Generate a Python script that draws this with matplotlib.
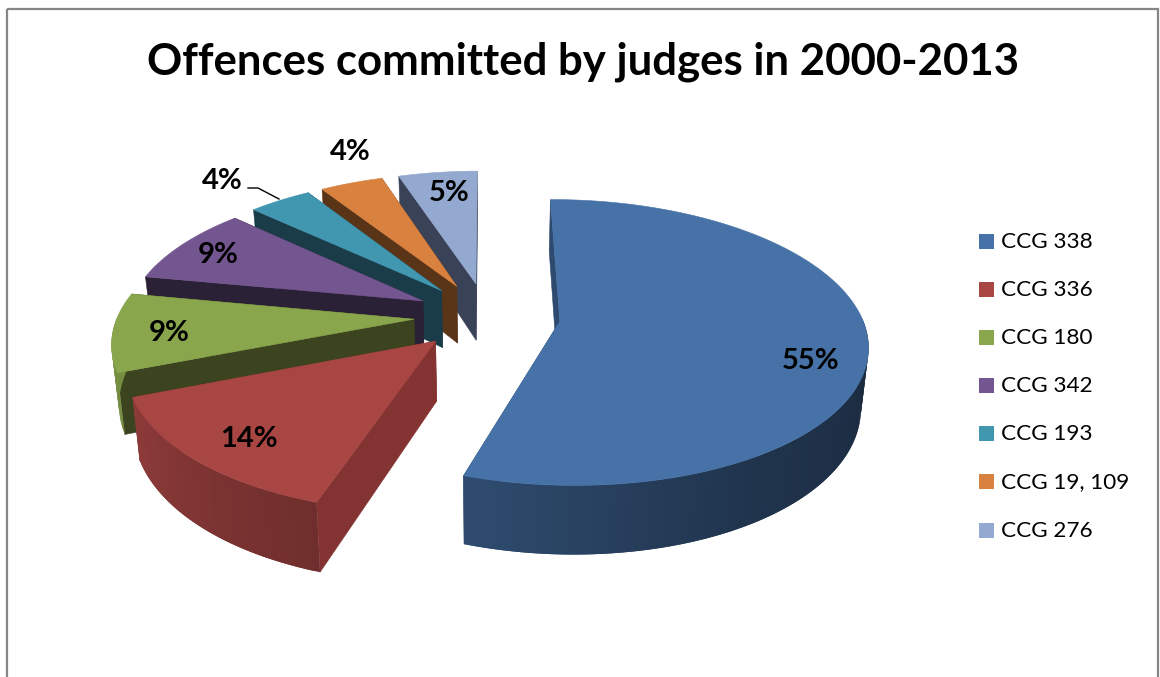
#!/usr/bin/env python3
"""Exploded pseudo-3D pie of offences committed by judges, with perspective."""

import numpy as np
import matplotlib
matplotlib.use('Agg')
import matplotlib.pyplot as plt
from matplotlib.patches import Polygon, Rectangle

plt.rcParams['font.family'] = ['Lato', 'DejaVu Sans']

TITLE = 'Offences committed by judges in 2000-2013'
categories = ['CCG 338', 'CCG 336', 'CCG 180', 'CCG 342', 'CCG 193', 'CCG 19, 109', 'CCG 276']
percent = [55, 14, 9, 9, 4, 4, 5]

top_colors = ['#4672a8', '#a84644', '#8aa64d', '#735590', '#4196b0', '#d98240', '#93a9cf']
cut_colors = ['#2e4a6e', '#833331', '#3b431f', '#2b2136', '#1a3b48', '#5a3417', '#3a4257']

# label anchor for each slice, in pixels
label_xy = [(811, 361), (249, 439), (169, 333), (218, 255), (222, 181), (350, 152), (449, 193)]

# projection of the pie plane onto the page
CX, CY = 487, 316
RX, RY = 299, 138
PERSP = 0.147
SKEW = 0.006
EXPLODE = 0.245
DEPTH = 58.5
BOTTOM_SHRINK = 0.98


def project(x, y, bottom=False):
    """Disc coordinates (y towards the viewer) to page pixels."""
    s = 1.0 / (1.0 - PERSP * y - SKEW * x)
    shrink = BOTTOM_SHRINK if bottom else 1.0
    px = CX + RX * x * s * shrink
    py = CY + RY * y * s + (DEPTH * s if bottom else 0)
    return px, py


def rim_shade(theta):
    """Brightness of the outer wall, by clockwise angle from the top."""
    return np.interp(theta, [90, 150, 198, 250, 360], [0.36, 0.46, 0.66, 0.85, 0.85])


def shaded(color, f):
    rgb = np.array(matplotlib.colors.to_rgb(color))
    return tuple(rgb * f)


def face(ax, pts, color, z, edge=True):
    ax.add_patch(Polygon(pts, closed=True, facecolor=color,
                         edgecolor=color if edge else 'none',
                         lw=0.4 if edge else 0, zorder=z))


def draw_slice(ax, t0, t1, top, cut, z):
    mid = np.radians((t0 + t1) / 2)
    ox, oy = EXPLODE * np.sin(mid), -EXPLODE * np.cos(mid)

    thetas = np.linspace(t0, t1, max(int(t1 - t0) + 2, 8))
    rad = np.radians(thetas)
    xs = ox + np.sin(rad)
    ys = oy - np.cos(rad)

    apex_top = project(ox, oy)
    apex_bot = project(ox, oy, bottom=True)

    # radial cut faces
    for i in (0, -1):
        face(ax, [apex_top, project(xs[i], ys[i]),
                  project(xs[i], ys[i], bottom=True), apex_bot], cut, z)

    # outer wall: only the arc facing the viewer. Each strip overlaps the
    # next one so no seams show between them.
    n = len(thetas)
    for i in range(n - 1):
        mid_t = (thetas[i] + thetas[i + 1]) / 2
        if np.cos(np.radians(mid_t)) > 0.02:
            continue
        j = min(i + 2, n - 1)
        col = shaded(top, rim_shade(mid_t))
        idx = range(i, j + 1)
        upper = [project(xs[k], ys[k]) for k in idx]
        lower = [project(xs[k], ys[k], bottom=True) for k in reversed(idx)]
        face(ax, upper + lower, col, z + 0.1 + 0.001 * i, edge=False)

    # top surface
    outline = [apex_top] + [project(a, b) for a, b in zip(xs, ys)]
    face(ax, outline, top, z + 0.5)


fig = plt.figure(figsize=(11.6, 6.77), dpi=100)
ax = fig.add_axes([0, 0, 1, 1])
ax.set_xlim(0, 1160)
ax.set_ylim(677, 0)
ax.axis('off')

# chart frame, runs off the bottom of the page
ax.add_patch(Rectangle((7, 9), 1151, 720, fill=False, edgecolor='#868686', lw=1.6, zorder=0))

ax.text(583, 62, TITLE, ha='center', va='center', fontsize=31.5, fontweight='bold', color='black')

sweep = np.array(percent) / sum(percent) * 360
ends = np.cumsum(sweep)
starts = ends - sweep

# back slices first, the front two last
order = [6, 5, 4, 3, 2, 0, 1]
for rank, i in enumerate(order):
    draw_slice(ax, starts[i], ends[i], top_colors[i], cut_colors[i], 2 + rank)

for p, (x, y) in zip(percent, label_xy):
    ax.text(x, y, f'{p}%', ha='center', va='center', fontsize=21, fontweight='bold',
            color='black', zorder=20)

# leader line for the small teal slice
ax.plot([248, 258, 279], [188, 188, 199], color='black', lw=1.0, zorder=20)

legend_y = [242, 290, 338, 386, 434.5, 482.5, 531]
for name, color, y in zip(categories, top_colors, legend_y):
    ax.add_patch(Rectangle((979, y - 8.5), 15, 15, facecolor=color, edgecolor='none', zorder=5))
    ax.text(1001, y, name, ha='left', va='center', fontsize=16.2, color='black', zorder=5)

fig.savefig('out.png', dpi=100)
